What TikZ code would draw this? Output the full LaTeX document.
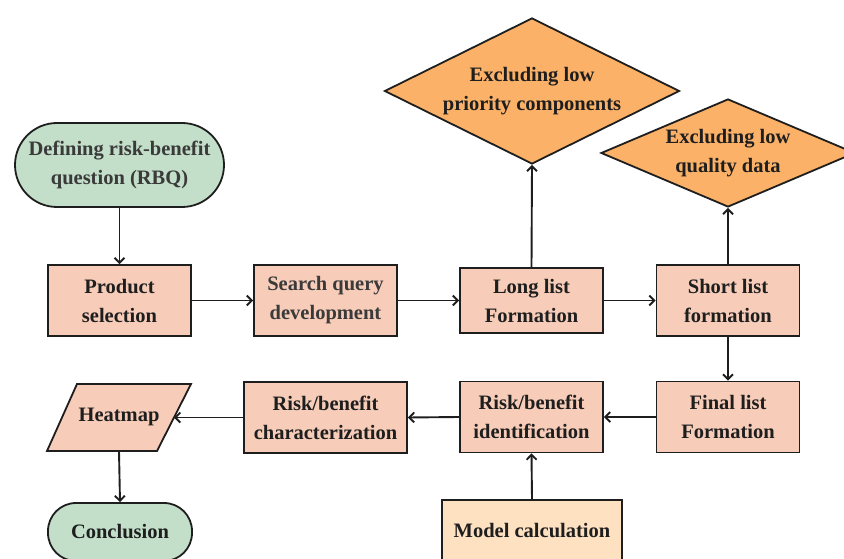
\documentclass[tikz,border=0pt]{standalone}
\usepackage{fontspec}
\setmainfont{Liberation Serif}
\usetikzlibrary{shapes.geometric,arrows.meta}
\definecolor{salmon}{HTML}{F7CDB9}
\definecolor{mint}{HTML}{C3DFC9}
\definecolor{amber}{HTML}{FBB268}
\definecolor{cream}{HTML}{FEE1C0}
\definecolor{ink}{HTML}{1E1E1E}
\definecolor{greyink}{HTML}{3A3A3A}
\tikzset{
  txt/.style={font=\bfseries\fontsize{20.5}{29}\selectfont, text=ink, align=center},
  stepbox/.style={txt, rectangle, draw=ink, line width=1.8pt, fill=salmon,
    minimum width=143pt, minimum height=71pt, inner sep=0pt},
  terminal/.style={txt, rectangle, draw=ink, line width=1.8pt, fill=mint, inner sep=0pt},
  decision/.style={txt, diamond, draw=ink, line width=1.8pt, fill=amber, inner sep=0pt},
  flow/.style={draw=ink, line width=1.9pt, -{Straight Barb[length=5pt,width=10pt]}}
}
\begin{document}
\begin{tikzpicture}[x=1pt,y=-1pt]
\useasboundingbox (0,0) rectangle (844,559);
\clip (0,0) rectangle (844,559);
% terminals
\node[terminal, minimum width=209pt, minimum height=84pt, rounded corners=42pt, text=greyink] (rbq) at (119.5,165) {Defining risk-benefit\\question (RBQ)};
\node[terminal, minimum width=144pt, minimum height=58pt, rounded corners=28pt] (concl) at (120,532) {Conclusion};
% top row
\node[stepbox] (prod) at (119.5,300.5) {Product\\selection};
\node[stepbox, text=greyink] (search) at (325.5,300.5) {Search query\\development};
\node[stepbox, minimum height=65pt] (long) at (531.5,300.5) {Long list\\Formation};
\node[stepbox] (short) at (728,300.5) {Short list\\formation};
% decisions
\node[decision, minimum width=295pt, minimum height=146pt, aspect=2] (excl1) at (532,91) {Excluding low\\priority components};
\node[decision, minimum width=254pt, minimum height=108pt, aspect=2.33] (excl2) at (728,153) {Excluding low\\quality data};
% second row
\node[stepbox] (final) at (728,417) {Final list\\Formation};
\node[stepbox] (ident) at (531.5,417) {Risk/benefit\\identification};
\node[stepbox, minimum width=163pt] (charz) at (325.5,417.5) {Risk/benefit\\characterization};
% heatmap parallelogram
\draw[line width=1.8pt, draw=ink, fill=salmon] (77,384) -- (191,384) -- (157,451) -- (47,451) -- cycle;
\node[txt] (heat) at (119,417) {Heatmap};
\coordinate (heatR) at (174,417.5);
\coordinate (heatB) at (119,451);
% model calculation
\node[txt, rectangle, draw=ink, line width=1.8pt, fill=cream, minimum width=180pt, minimum height=62pt, inner sep=0pt] (model) at (532,531) {Model calculation};
% connectors
\draw[flow] (rbq.south) -- (prod.north);
\draw[flow] (prod.east) -- (search.west);
\draw[flow] (search.east) -- (long.west);
\draw[flow] (long.east) -- (short.west);
\draw[flow] (long.north) -- (excl1.south);
\draw[flow] (short.north) -- (excl2.south);
\draw[flow] (short.south) -- (final.north);
\draw[flow] (final.west) -- (ident.east);
\draw[flow] (ident.west) -- (charz.east);
\draw[flow] (charz.west) -- (heatR);
\draw[flow] (heatB) -- (concl.north);
\draw[flow] (model.north) -- (ident.south);
\end{tikzpicture}
\end{document}
